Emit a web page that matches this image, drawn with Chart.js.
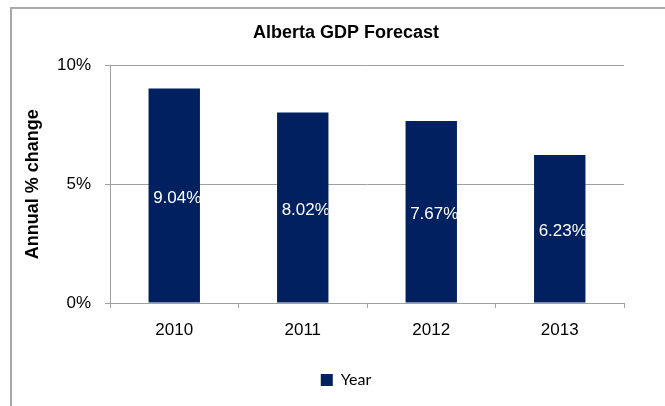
<!DOCTYPE html>
<html>
<head>
<meta charset="utf-8">
<title>Alberta GDP Forecast</title>
<script src="https://cdn.jsdelivr.net/npm/chart.js@4"></script>
<style>
    html, body { margin: 0; padding: 0; overflow: hidden; background: #fff; }
    canvas { display: block; }
</style>
</head>
<body>
<canvas id="gdpChart" width="692" height="406"></canvas>
<script>
// Annual GDP growth forecast, in percent
const years = ["2010", "2011", "2012", "2013"];
const growth = [9.04, 8.02, 7.67, 6.23];
const yTicks = [0, 5, 10];

const BAR_COLOR = "#002060";
const GRID_COLOR = "#a0a0a0";
const ARIAL = "'Liberation Sans', Arial, sans-serif";

// Grey frame round the whole chart
const framePlugin = {
    id: "frame",
    beforeDraw(chart) {
        const ctx = chart.ctx;
        ctx.save();
        ctx.fillStyle = "#fff";
        ctx.fillRect(0, 0, chart.width, chart.height);
        ctx.strokeStyle = "#a8a8a8";
        ctx.lineWidth = 2;
        ctx.strokeRect(11, 8, 700, 420);
        ctx.restore();
    }
};

// White value labels in the middle of each bar
const barLabelPlugin = {
    id: "barLabels",
    afterDatasetsDraw(chart) {
        const ctx = chart.ctx;
        const meta = chart.getDatasetMeta(0);
        ctx.save();
        ctx.font = "17px " + ARIAL;
        ctx.fillStyle = "#fff";
        ctx.textAlign = "center";
        ctx.textBaseline = "middle";
        meta.data.forEach(function(bar, i) {
            const half = bar.width / 2;
            ctx.save();
            ctx.beginPath();
            ctx.rect(bar.x - half, bar.y, bar.width, bar.base - bar.y);
            ctx.clip();
            ctx.fillText(growth[i].toFixed(2) + "%", bar.x + 3, (bar.y + bar.base) / 2 + 3);
            ctx.restore();
        });
        ctx.restore();
    }
};

Chart.defaults.color = "#000";

new Chart(document.getElementById("gdpChart"), {
    type: "bar",
    data: {
        labels: years,
        datasets: [{
            label: "Year",
            data: growth,
            backgroundColor: BAR_COLOR,
            borderWidth: 0,
            barPercentage: 0.4,
            categoryPercentage: 1
        }]
    },
    options: {
        responsive: false,
        animation: false,
        devicePixelRatio: 1,
        layout: { padding: { left: 0, right: 0, top: 0, bottom: 8 } },
        plugins: {
            title: {
                display: true,
                text: "Alberta GDP Forecast",
                font: { family: ARIAL, size: 18, weight: "bold" },
                padding: { top: 22, bottom: 22 }
            },
            legend: {
                position: "bottom",
                labels: {
                    boxWidth: 12,
                    boxHeight: 12,
                    padding: 10,
                    font: { family: "Lato, sans-serif", size: 16 }
                }
            },
            tooltip: { enabled: false }
        },
        scales: {
            x: {
                grid: {
                    drawOnChartArea: false,
                    drawTicks: true,
                    tickLength: 5,
                    color: GRID_COLOR
                },
                border: { color: GRID_COLOR },
                ticks: {
                    padding: 12,
                    font: { family: ARIAL, size: 17 }
                },
                afterFit(scale) { scale.height = 59; }
            },
            y: {
                min: 0,
                max: 10,
                afterBuildTicks(scale) {
                    scale.ticks = yTicks.map(v => ({ value: v }));
                },
                grid: { color: GRID_COLOR, tickLength: 5 },
                border: { color: GRID_COLOR },
                ticks: {
                    padding: 14,
                    font: { family: ARIAL, size: 17 },
                    callback: v => v + "%"
                },
                title: {
                    display: true,
                    text: "Annual % change",
                    font: { family: ARIAL, size: 18, weight: "bold" },
                    padding: { top: 22, bottom: 0 }
                },
                afterFit(scale) { scale.width = 110; }
            },
            // empty spacer on the right so the title and legend sit centred in the frame
            spacer: {
                type: "linear",
                position: "right",
                grid: { display: false },
                border: { display: false },
                ticks: { display: false },
                afterFit(scale) { scale.width = 68; }
            }
        }
    },
    plugins: [framePlugin, barLabelPlugin]
});
</script>
</body>
</html>
